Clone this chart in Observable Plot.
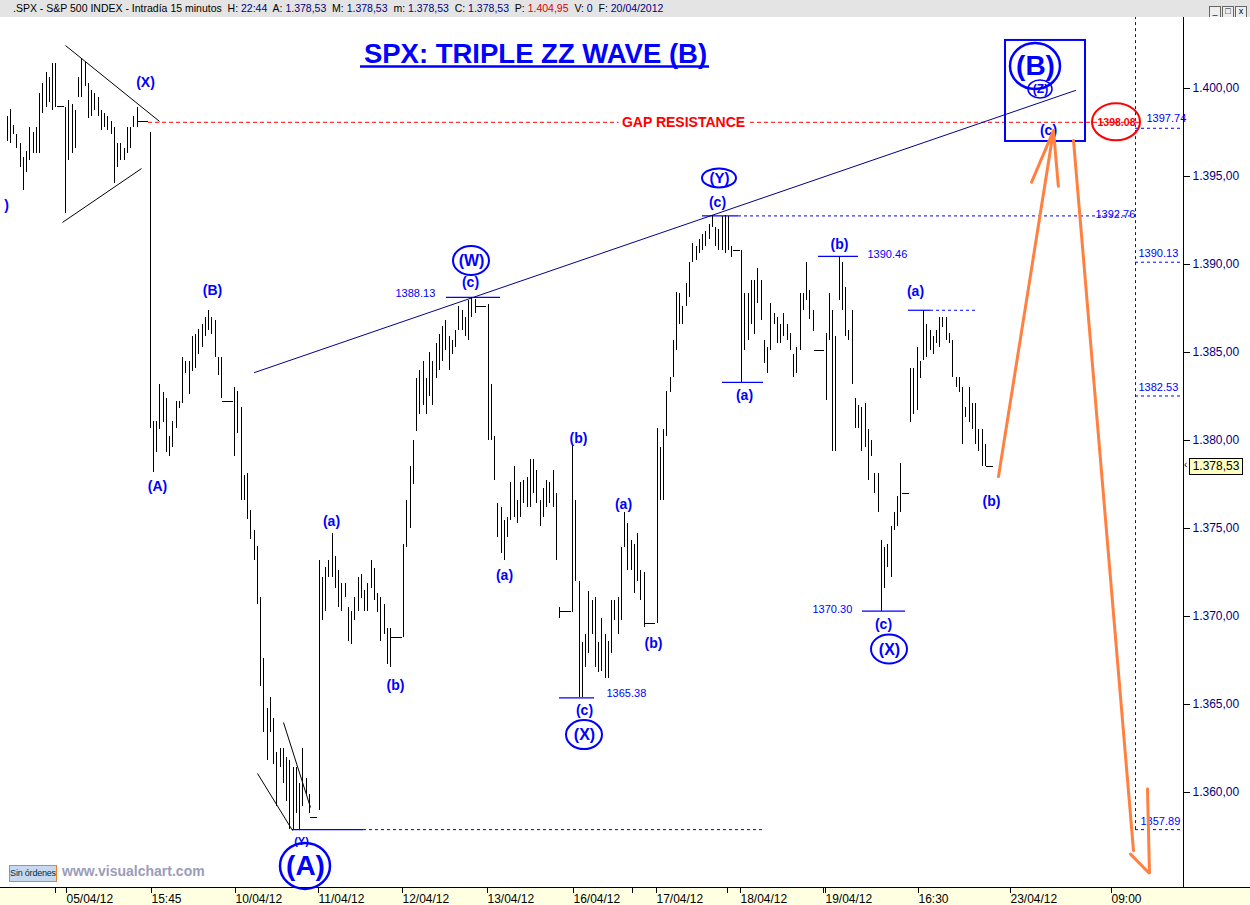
<!DOCTYPE html>
<html><head><meta charset="utf-8">
<script src="https://cdn.jsdelivr.net/npm/d3@7"></script>
<script src="https://cdn.jsdelivr.net/npm/@observablehq/plot@0.6"></script>
<style>
body{margin:0;background:#fff;width:1250px;height:905px;overflow:hidden;font-family:"Liberation Sans",Arial,sans-serif;}
#wrap{position:relative;width:1250px;height:905px;}
#hdr{position:absolute;left:0;top:0;width:1250px;height:17px;background:#e4e4e4;font:10.5px "Liberation Sans",Arial,sans-serif;line-height:17px;white-space:nowrap;color:#000;}
#hdr .t{position:absolute;left:13px;top:0;}
#hdr .v{color:#000080}
#hdr .r{color:#e00000}
#chart{position:absolute;left:0;top:17px;}
#btns{position:absolute;right:3px;top:2px;}
#btns span{display:inline-block;width:10px;height:10px;border:1px solid #666;margin-left:1px;background:#eee;font-size:9px;line-height:9px;text-align:center;}
#sin{position:absolute;left:9px;top:865px;width:46px;height:15px;border:1px solid #f08020;background:#c8d8ee;font:9px "Liberation Sans",Arial;color:#003040;line-height:15px;white-space:nowrap;overflow:hidden;text-align:center;letter-spacing:-0.2px;}
#wm{position:absolute;left:62px;top:863px;font:bold 14px "Liberation Sans",Arial;color:#9c9cba;}
#tag{position:absolute;left:1189px;top:458px;width:52px;height:15px;border:1px solid #000;background:#ffffc4;font:12px "Liberation Sans",Arial;color:#000;line-height:15px;text-align:center;}
#tagarr{position:absolute;left:1184px;top:459px;font:10px "Liberation Sans",Arial;color:#000;}
</style></head>
<body><div id="wrap">
<div id="hdr"><span class="t">.SPX - S&amp;P 500 INDEX - Intradía 15 minutos&nbsp; H: <span class="v">22:44</span>&nbsp; A: <span class="v">1.378,53</span>&nbsp; M: <span class="v">1.378,53</span>&nbsp; m: <span class="v">1.378,53</span>&nbsp; C: <span class="v">1.378,53</span>&nbsp; P: <span class="r">1.404,95</span>&nbsp; V: <span class="v">0</span>&nbsp; F: <span class="v">20/04/2012</span></span>
<div id="btns"><span>_</span><span>□</span><span>x</span></div></div>
<div id="chart"></div>
<div id="sin">Sin órdenes</div>
<div id="wm">www.visualchart.com</div>
<div id="tagarr">‹</div>
<div id="tag">1.378,53</div>
</div>
<script>
// ---------- price data: 15-minute bars [low, high]; single number = flat bar ----------
const dayStart = [-18, 0, 26, 52, 78, 104, 130, 156, 182, 208, 234, 260];
const d0404 = [[1397.0,1398.4],[1396.9,1398.8],[1397.4,1397.9],[1396.6,1397.4],[1395.5,1396.9],[1394.2,1396.1],[1395.2,1396.4],[1395.9,1397.8],[1396.3,1397.5],[1396.3,1397.8],[1396.3,1399.7],[1398.6,1400.3],[1398.9,1400.9],[1399.2,1400.6],[1398.75,1401.4],[1398.9,1401.4],1399.0,1399.0];
const d0405 = [[1392.9,1398.9],[1395.9,1399.3],[1396.3,1399.1],[1396.6,1398.75],[1399.5,1400.6],[1399.5,1401.7],[1400.1,1401.5],[1398.3,1400.3],[1398.4,1399.9],[1398.75,1399.7],[1398.4,1399.5],[1397.6,1398.75],[1397.8,1398.6],[1397.6,1398.4],[1397.4,1398.1],[1394.6,1397.8],[1395.5,1396.9],[1395.9,1396.9],[1395.9,1396.6],[1396.3,1397.8],[1396.6,1397.8],[1397.8,1398.4],[1397.8,1398.9],1398.1,1398.1,1398.1];
const d0409 = [[1380.7,1397.5],[1378.2,1381.1],[1379.3,1381.1],[1380.6,1383.2],[1381.0,1382.7],[1379.3,1382.4],[1379.1,1380.2],[1379.6,1381.1],[1380.7,1382.2],[1381.8,1382.2],[1382.1,1384.7],[1383.8,1384.5],[1382.6,1384.5],[1383.9,1385.9],[1384.1,1386.0],[1384.9,1386.3],[1385.3,1386.6],[1385.9,1387.0],[1386.25,1387.4],[1386.0,1387.0],[1384.7,1386.8],[1383.7,1384.7],[1382.4,1384.7],1382.2,1382.2,1382.2];
const d0410 = [[1379.1,1383.0],[1380.4,1382.8],[1376.6,1381.9],[1376.6,1378.0],[1375.5,1378.1],[1374.4,1376.0],[1373.2,1374.9],[1370.7,1374.0],[1366.0,1371.1],[1363.4,1367.6],[1361.8,1364.8],[1363.4,1365.4],[1361.6,1364.2],[1359.2,1362.3],[1361.4,1362.5],[1360.5,1362.5],[1359.5,1362.0],[1357.9,1361.8],[1357.89,1361.4],[1358.8,1361.4],[1357.9,1360.5],[1359.2,1362.5],[1359.9,1360.8],[1358.8,1359.9],1358.6,1358.6];
const d0411 = [[1359.0,1373.2],[1369.8,1372.2],[1370.3,1372.8],[1372.2,1373.2],[1372.2,1374.7],[1371.6,1373.4],[1370.5,1372.6],[1370.3,1371.9],[1371.1,1371.9],[1368.6,1370.5],[1368.4,1370.3],[1369.8,1371.1],[1370.3,1372.2],[1371.0,1372.4],[1370.3,1371.5],[1370.3,1371.9],[1371.6,1373.2],[1370.9,1372.7],[1370.2,1371.3],[1368.6,1371.1],[1369.0,1370.7],[1367.3,1369.3],[1367.1,1369.3],1368.8,1368.8,1368.8];
const d0412 = [[1368.8,1374.1],[1373.9,1376.6],[1375.0,1378.5],[1377.5,1380.0],[1380.5,1383.5],[1381.5,1384.0],[1382.0,1384.5],[1381.5,1383.5],[1382.5,1385.0],[1382.0,1384.5],[1383.5,1385.5],[1384.0,1386.0],[1384.5,1386.5],[1385.1,1386.8],[1384.0,1385.9],[1384.9,1385.7],[1385.3,1386.25],[1386.25,1387.6],[1386.25,1387.4],[1385.9,1387.0],[1385.7,1387.95],[1387.0,1388.13],[1387.2,1388.0],1387.6,1387.6,1387.6];
const d0413 = [[1380.0,1387.7],[1380.0,1383.2],[1377.7,1380.2],[1374.5,1376.4],[1373.6,1376.2],[1373.2,1375.45],[1374.5,1375.6],[1375.45,1377.6],[1375.6,1378.5],[1375.3,1376.6],[1375.6,1377.6],[1376.4,1377.7],[1376.2,1377.9],[1376.2,1378.9],[1377.0,1378.9],[1376.4,1378.3],[1375.1,1376.6],[1375.6,1377.3],[1376.2,1377.7],[1376.4,1377.6],[1376.2,1378.3],[1373.2,1377.0],[1369.9,1370.5],1370.3,1370.3,1370.3];
const d0416 = [[1370.2,1379.7],[1372.0,1376.6],[1365.38,1372.0],[1365.4,1368.5],[1367.1,1369.0],[1367.9,1371.4],[1369.0,1370.9],[1367.1,1371.1],[1366.8,1368.5],[1366.9,1369.9],[1366.5,1369.0],[1366.5,1368.6],[1367.9,1370.9],[1369.8,1370.9],[1369.0,1371.1],[1369.8,1373.9],[1373.9,1375.9],[1372.6,1375.3],[1372.6,1374.3],[1371.3,1374.1],[1372.0,1374.7],[1370.9,1372.6],[1369.4,1372.5],1369.6,1369.6,1369.6];
const d0417 = [[1369.6,1380.7],[1376.6,1379.6],[1376.6,1380.6],[1380.2,1382.8],[1382.7,1383.6],[1383.6,1385.7],[1385.1,1388.4],[1386.6,1388.35],[1386.6,1387.6],[1387.6,1388.9],[1388.1,1390.1],[1390.1,1391.2],[1390.2,1391.0],[1390.6,1391.4],[1390.8,1391.7],[1391.0,1391.9],[1391.4,1392.3],[1392.1,1392.76],[1391.0,1392.1],[1390.8,1392.0],[1390.8,1392.7],[1390.6,1392.8],[1390.8,1392.7],[1390.4,1391.0],1390.8,1390.8];
const d0418 = [[1383.3,1390.8],[1385.1,1388.35],[1385.7,1388.35],[1386.6,1389.1],[1386.0,1389.1],[1387.8,1389.8],[1386.8,1389.1],[1384.4,1385.7],[1383.8,1385.3],[1385.1,1387.8],[1386.6,1387.2],[1385.5,1387.0],[1385.5,1386.6],[1385.9,1387.2],[1385.7,1386.6],[1385.1,1386.1],[1383.6,1384.9],[1383.8,1385.3],[1385.1,1388.35],[1387.4,1388.35],[1387.95,1390.1],[1386.9,1388.5],[1386.2,1387.4],1385.1,1385.1,1385.1];
const d0419 = [[1382.3,1386.1],[1385.7,1388.35],[1379.4,1387.4],[1379.4,1385.9],[1387.95,1390.46],[1387.4,1390.1],[1385.9,1388.7],[1385.7,1386.25],[1383.2,1387.4],[1380.7,1382.4],[1380.7,1382.0],[1379.4,1381.9],[1379.6,1382.1],[1377.7,1380.6],[1379.1,1380.0],[1377.0,1378.1],[1375.9,1378.1],[1370.3,1374.3],[1371.6,1373.9],[1372.8,1374.1],[1372.2,1375.1],[1374.9,1375.9],[1375.1,1376.8],[1375.9,1378.7],1377.0,1377.0];
const d0420 = [[1381.0,1384.1],[1381.5,1384.1],[1381.7,1385.3],[1383.5,1384.5],[1384.55,1387.4],[1384.7,1386.6],[1385.1,1386.25],[1384.9,1385.9],[1385.5,1386.25],[1385.3,1387.0],[1386.4,1387.0],[1385.7,1387.0],[1385.5,1386.1],[1383.6,1385.7],[1383.0,1383.6],[1382.7,1383.6],[1379.8,1383.0],[1381.3,1381.9],[1381.0,1383.0],[1380.6,1382.1],[1379.8,1382.1],[1379.4,1380.6],[1378.5,1380.6],[1378.5,1379.8],1378.53,1378.53];
const sessions = [d0404,d0405,d0409,d0410,d0411,d0412,d0413,d0416,d0417,d0418,d0419,d0420];

// ---------- axes ----------
const yTicks = [1360,1365,1370,1375,1380,1385,1390,1395,1400];
const xTickPos = [-3.5, 0, 26, 52, 77.5, 103.5, 129.5, 156, 174, 181.5, 203.5, 207.5, 233, 233.5, 262, 290.5, 321.5];
const xTickLab = ["", "05/04/12", "15:45", "10/04/12", "11/04/12", "12/04/12", "13/04/12", "16/04/12", "", "17/04/12", "", "18/04/12", "", "19/04/12", "16:30", "23/04/12", "09:00"];

// ---------- annotations (bar index, price) ----------
const titleText = "SPX: TRIPLE ZZ WAVE (B)";
const titlePos = {i: 144.5, p: 1401.45};
const titleUnderline = {i1: 90.8, i2: 198.2, p: 1401.25};
const waveLabels = [
  {t:"(X)",i:24.6,p:1400.34},{t:")",i:-18.3,p:1393.35},{t:"(A)",i:28.3,p:1377.39},{t:"(B)",i:45.2,p:1388.52},
  {t:"(a)",i:81.7,p:1375.40},{t:"(b)",i:101.5,p:1366.08},{t:"(c)",i:124.5,p:1388.98},{t:"(a)",i:135.2,p:1372.33},
  {t:"(b)",i:157.7,p:1380.14},{t:"(a)",i:171.8,p:1376.34},{t:"(b)",i:180.9,p:1368.47},{t:"(c)",i:159.7,p:1364.66},
  {t:"(c)",i:200.5,p:1393.55},{t:"(a)",i:208.8,p:1382.56},{t:"(b)",i:238.3,p:1391.16},{t:"(a)",i:261.4,p:1388.44},
  {t:"(c)",i:251.7,p:1369.57},{t:"(b)",i:284.9,p:1376.51},{t:"(c)",i:302.5,p:1397.61}
];
const circled = [
  {t:"(W)",i:124.8,p:1390.20,k:"m"},{t:"(Y)",i:201.2,p:1394.89,k:"y"},{t:"(X)",i:159.8,p:1363.26,k:"m"},
  {t:"(X)",i:253.5,p:1368.13,k:"m"},{t:"(A)",i:73.7,p:1355.80,k:"L"},{t:"(B)",i:298.5,p:1401.25,k:"L"},{t:"(Z)",i:300,p:1399.94,k:"s"}
];
const smallY = {t:"(Y)", i:72.6, p:1357.2};
const priceNotes = [
  {t:"1388.13",i:101.5,p:1388.35},{t:"1365.38",i:166.5,p:1365.63},{t:"1370.30",i:229.8,p:1370.40},
  {t:"1390.46",i:246.8,p:1390.57},{t:"1392.76",i:316.9,p:1392.84},{t:"1397.74",i:332.6,p:1398.30},
  {t:"1390.13",i:330.2,p:1390.63},{t:"1382.53",i:330.2,p:1383.01},{t:"1357.89",i:330.8,p:1358.35}
];
const solidLevels = [
  {p:1388.13,i1:117.2,i2:133.8},{p:1383.3,i1:202.2,i2:214.8},{p:1390.46,i1:231.7,i2:244},
  {p:1387.4,i1:259.4,i2:266.2},{p:1370.30,i1:245.2,i2:258.5},{p:1365.38,i1:152,i2:162.8},
  {p:1392.76,i1:196,i2:207.1},{p:1357.89,i1:69.8,i2:91.7}
];
const dashedLevels = [
  {p:1392.76,i1:207.1,i2:329.2},{p:1357.89,i1:91.7,i2:215.4},{p:1357.89,i1:329.2,i2:343.1},{p:1387.4,i1:266.2,i2:280.9},
  {p:1397.74,i1:329.2,i2:343.1},{p:1390.13,i1:329.2,i2:343.1},{p:1382.53,i1:329.2,i2:343.1}
];
const vLine = {i:329.2, p1:1357.89, p2:1404.03};
const gap = {p:1398.08, i1:25.5, i2:330.8, label:"GAP RESISTANCE", li:190.15, tag:"1398.08", ti:323.4};
const trendLine = [{i:58.2,p:1383.86},{i:310.8,p:1399.89}];
const blackLines = [
  {i1:0,p1:1402.44,i2:28.9,p2:1398.13},{i1:-0.9,p1:1392.39,i2:23.4,p2:1395.45},
  {i1:59.1,p1:1361.08,i2:69.8,p2:1357.84},{i1:67.1,p1:1363.98,i2:75.4,p2:1359.15}
];
const box = {i1:289.2,i2:313.8,p1:1396.99,p2:1402.73};
const upArrow = [{i1:287.1,p1:1377.95,i2:304,p2:1397.61}];
const downShaft = [{i:310.2,p:1397.05},{i:328.6,p:1356.7}];
const downHead = [{i:327.7,p:1356.5},{i:333.5,p:1355.4},{i:332.8,p:1360.2}];

// ---------- build ----------
const bars = sessions.flatMap((s,k)=>s.map((b,j)=>{
  const lo = Array.isArray(b)?b[0]:b, hi = Array.isArray(b)?b[1]:b;
  return {i: dayStart[k]+j, lo, hi};
}));
const ranged = bars.filter(b=>b.lo!==b.hi), flats = bars.filter(b=>b.lo===b.hi);
const fmtES = v => d3.format(",.2f")(v).replace(/,/g,"X").replace(".",",").replace("X",".");
const labMap = new Map(xTickPos.map((v,k)=>[v,xTickLab[k]]));
const BLUE = "#0000ff", NAVY="#000080", RED="#ff0000", ORANGE="#ff8040";
const FONT = "Liberation Sans, Arial, sans-serif";
const ellStyle = {m:{rx:18,ry:14.5,fs:16,w:2},y:{rx:17,ry:9.5,fs:15,w:2},L:{rx:25,ry:23,fs:28,w:2.5},s:{rx:12,ry:9,fs:12,w:1.5}};

function ellipseMark(items){
  return (index, scales) => {
    const g = d3.create("svg:g");
    for (const d of items){
      g.append("ellipse").attr("cx", scales.x(d.i)).attr("cy", scales.y(d.p))
        .attr("rx", d.rx).attr("ry", d.ry).attr("fill","none").attr("stroke", d.c).attr("stroke-width", d.w);
    }
    return g.node();
  };
}
const ellItems = circled.map(d=>({i:d.i,p:d.p,rx:ellStyle[d.k].rx,ry:ellStyle[d.k].ry,w:ellStyle[d.k].w,c:BLUE}))
  .concat([{i:gap.ti,p:gap.p,rx:24,ry:18.5,w:2,c:RED}]);

const chart = Plot.plot({
  width:1250, height:888, marginLeft:0, marginRight:67, marginTop:0, marginBottom:18,
  style:{fontFamily:FONT, background:"transparent", overflow:"visible"},
  x:{domain:[-20,344], axis:null, round:true},
  y:{domain:[1354.602,1404.034], axis:null},
  marks:[
    Plot.ruleY([gap], {y:"p", x1:"i1", x2:"i2", stroke:RED, strokeDasharray:"4,3"}),
    Plot.ruleY(dashedLevels, {y:"p", x1:"i1", x2:"i2", stroke:BLUE, strokeDasharray:"3,3"}),
    Plot.ruleX([vLine], {x:"i", y1:"p1", y2:"p2", stroke:BLUE, strokeDasharray:"3,3"}),
    Plot.ruleY(solidLevels, {y:"p", x1:"i1", x2:"i2", stroke:BLUE, strokeWidth:1.2}),
    Plot.line(trendLine, {x:"i", y:"p", stroke:"#00008b", strokeWidth:1}),
    Plot.link(blackLines, {x1:"i1", y1:"p1", x2:"i2", y2:"p2", stroke:"#000", strokeWidth:1}),
    Plot.ruleX(ranged, {x:"i", y1:"lo", y2:"hi", stroke:"#000", strokeWidth:1, shapeRendering:"crispEdges"}),
    Plot.ruleY(flats, {y:"lo", x1:d=>d.i-0.6, x2:d=>d.i+0.6, stroke:"#000", shapeRendering:"crispEdges"}),
    Plot.text([gap], {x:"li", y:"p", text:"label", fill:RED, fontWeight:"bold", fontSize:14, stroke:"white", strokeWidth:8}),
    Plot.text([gap], {x:"ti", y:"p", text:"tag", fill:RED, fontWeight:"bold", fontSize:10.5}),
    Plot.text([titlePos], {x:"i", y:"p", text:()=>titleText, fill:BLUE, fontWeight:"bold", fontSize:27.5, lineAnchor:"bottom"}),
    Plot.ruleY([titleUnderline], {y:"p", x1:"i1", x2:"i2", stroke:BLUE, strokeWidth:2.5}),
    Plot.text(waveLabels, {x:"i", y:"p", text:"t", fill:BLUE, fontWeight:"bold", fontSize:14}),
    Plot.text(priceNotes, {x:"i", y:"p", text:"t", fill:BLUE, fontSize:11, textAnchor:"start"}),
    Plot.text(circled, {x:"i", y:"p", text:"t", fill:BLUE, fontWeight:"bold", fontSize:d=>ellStyle[d.k].fs}),
    Plot.text([smallY], {x:"i", y:"p", text:"t", fill:BLUE, fontWeight:"bold", fontSize:11}),
    ellipseMark(ellItems),
    Plot.rect([box], {x1:"i1", x2:"i2", y1:"p1", y2:"p2", fill:"none", stroke:BLUE, strokeWidth:2}),
    Plot.arrow(upArrow, {x1:"i1", y1:"p1", x2:"i2", y2:"p2", stroke:ORANGE, strokeWidth:3, headLength:28, headAngle:28}),
    Plot.line(downShaft, {x:"i", y:"p", stroke:ORANGE, strokeWidth:3}),
    Plot.line(downHead, {x:"i", y:"p", stroke:ORANGE, strokeWidth:3, strokeLinejoin:"miter"}),
    Plot.axisY({anchor:"right", ticks:yTicks, tickFormat:fmtES, tickSize:6, tickPadding:3, fontSize:12, color:NAVY, stroke:"#000"}),
    Plot.axisX({anchor:"bottom", ticks:xTickPos, tickFormat:d=>labMap.get(d), tickSize:6, tickPadding:1, fontSize:12, textAnchor:"start", dx:1, color:"#000"}),
    Plot.ruleX([344], {stroke:"#000"}),
    Plot.ruleY([1354.602], {stroke:"#000"})
  ]
});
chart.style.background = "linear-gradient(to bottom, #ffffff 870px, #000 870px, #000 871px, #ffffe1 871px)";
document.getElementById("chart").appendChild(chart);
</script>
</body></html>
